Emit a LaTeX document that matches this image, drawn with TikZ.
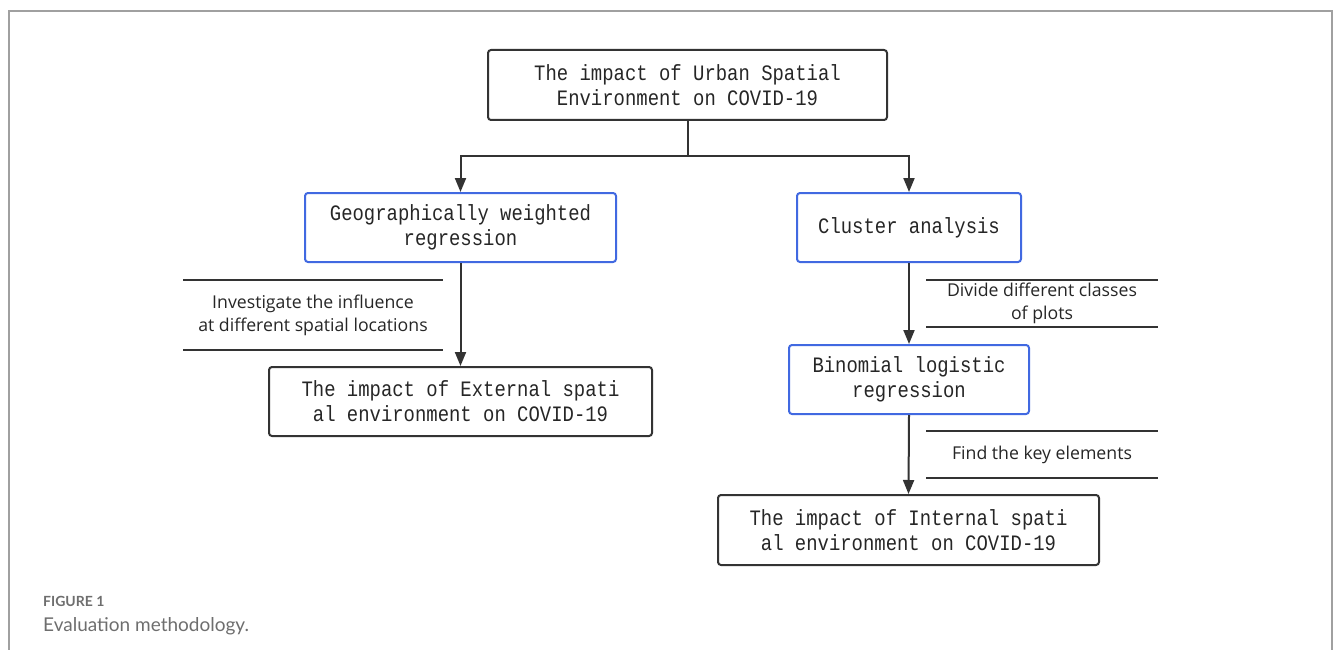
\documentclass[tikz,border=0pt]{standalone}
\usepackage{fontspec}
\usepackage{xcolor}
\usetikzlibrary{shapes,arrows,arrows.meta,positioning}
\setmainfont{Open Sans}
\newfontfamily\boxfont[FakeStretch=0.86]{Liberation Mono}
\newfontfamily\capfont{Lato}

\definecolor{linegray}{HTML}{333333}
\definecolor{boxblue}{HTML}{4169E1}
\definecolor{framegray}{HTML}{A0A0A0}
\definecolor{capgray}{HTML}{6E6E6E}

\tikzset{
  blackbox/.style={draw=linegray, line width=2pt, rounded corners=3pt, align=center,
    font=\boxfont\fontsize{22}{25}\selectfont, text=black!85, inner sep=0pt},
  bluebox/.style={blackbox, draw=boxblue},
  note/.style={align=center, inner sep=0pt, outer sep=0pt, minimum width=232pt,
    minimum height=47pt, font=\fontsize{17.7}{23}\selectfont, text=black!85},
  link/.style={draw=linegray, line width=2pt},
  arrow/.style={link, -{Triangle[width=11pt,length=14pt]}}
}

\begin{document}
\begin{tikzpicture}[x=1pt,y=-1pt]
\useasboundingbox (0,0) rectangle (1335,650);

% Frame
\draw[framegray, line width=1.5pt] (9,650) -- (9,11) -- (1332,11) -- (1332,650);

% Boxes
\node[blackbox, minimum width=399pt, minimum height=70pt] (top) at (687.5,85)
  {The impact of Urban Spatial\\Environment on COVID-19};
\node[bluebox, minimum width=311pt, minimum height=69pt] (gwr) at (460.5,227.5)
  {Geographically weighted\\regression};
\node[bluebox, minimum width=224pt, minimum height=69pt] (cluster) at (909,227.5)
  {Cluster analysis};
\node[bluebox, minimum width=240pt, minimum height=69pt] (logit) at (909,379.5)
  {Binomial logistic\\regression};
\node[blackbox, minimum width=383pt, minimum height=69pt] (external) at (460.5,401.5)
  {The impact of External spati\\al environment on COVID-19};
\node[blackbox, minimum width=381pt, minimum height=70pt] (internal) at (908.5,530)
  {The impact of Internal spati\\al environment on COVID-19};

% Notes
\node[note, minimum width=260pt, minimum height=70pt] (note1) at (313,315)
  {Investigate the influence\\at different spatial locations};
\node[note] (note2) at (1042,303.5) {Divide different classes\\of plots};
\node[note] (note3) at (1042,454.5) {Find the key elements};

\foreach \n in {note1,note2,note3} {
  \draw[link] (\n.north west) -- (\n.north east);
  \draw[link] (\n.south west) -- (\n.south east);
}

% Connectors
\coordinate (split) at (687.5,156);
\draw[link] (top.south) -- (split);
\draw[arrow] (split) -| (gwr.north);
\draw[arrow] (split) -| (cluster.north);
\draw[arrow] (gwr.south) -- (external.north);
\draw[arrow] (cluster.south) -- (logit.north);
\draw[arrow] (logit.south) -- (internal.north);

% Caption
\node[anchor=west, inner sep=0pt, font=\capfont\bfseries\fontsize{14}{16}\selectfont, text=capgray]
  (figlabel) at (43,601) {FIGURE 1};
\node[anchor=west, inner sep=0pt, font=\capfont\fontsize{19}{22}\selectfont, text=capgray]
  (figtitle) at (43,626) {Evaluation methodology.};

\end{tikzpicture}
\end{document}
